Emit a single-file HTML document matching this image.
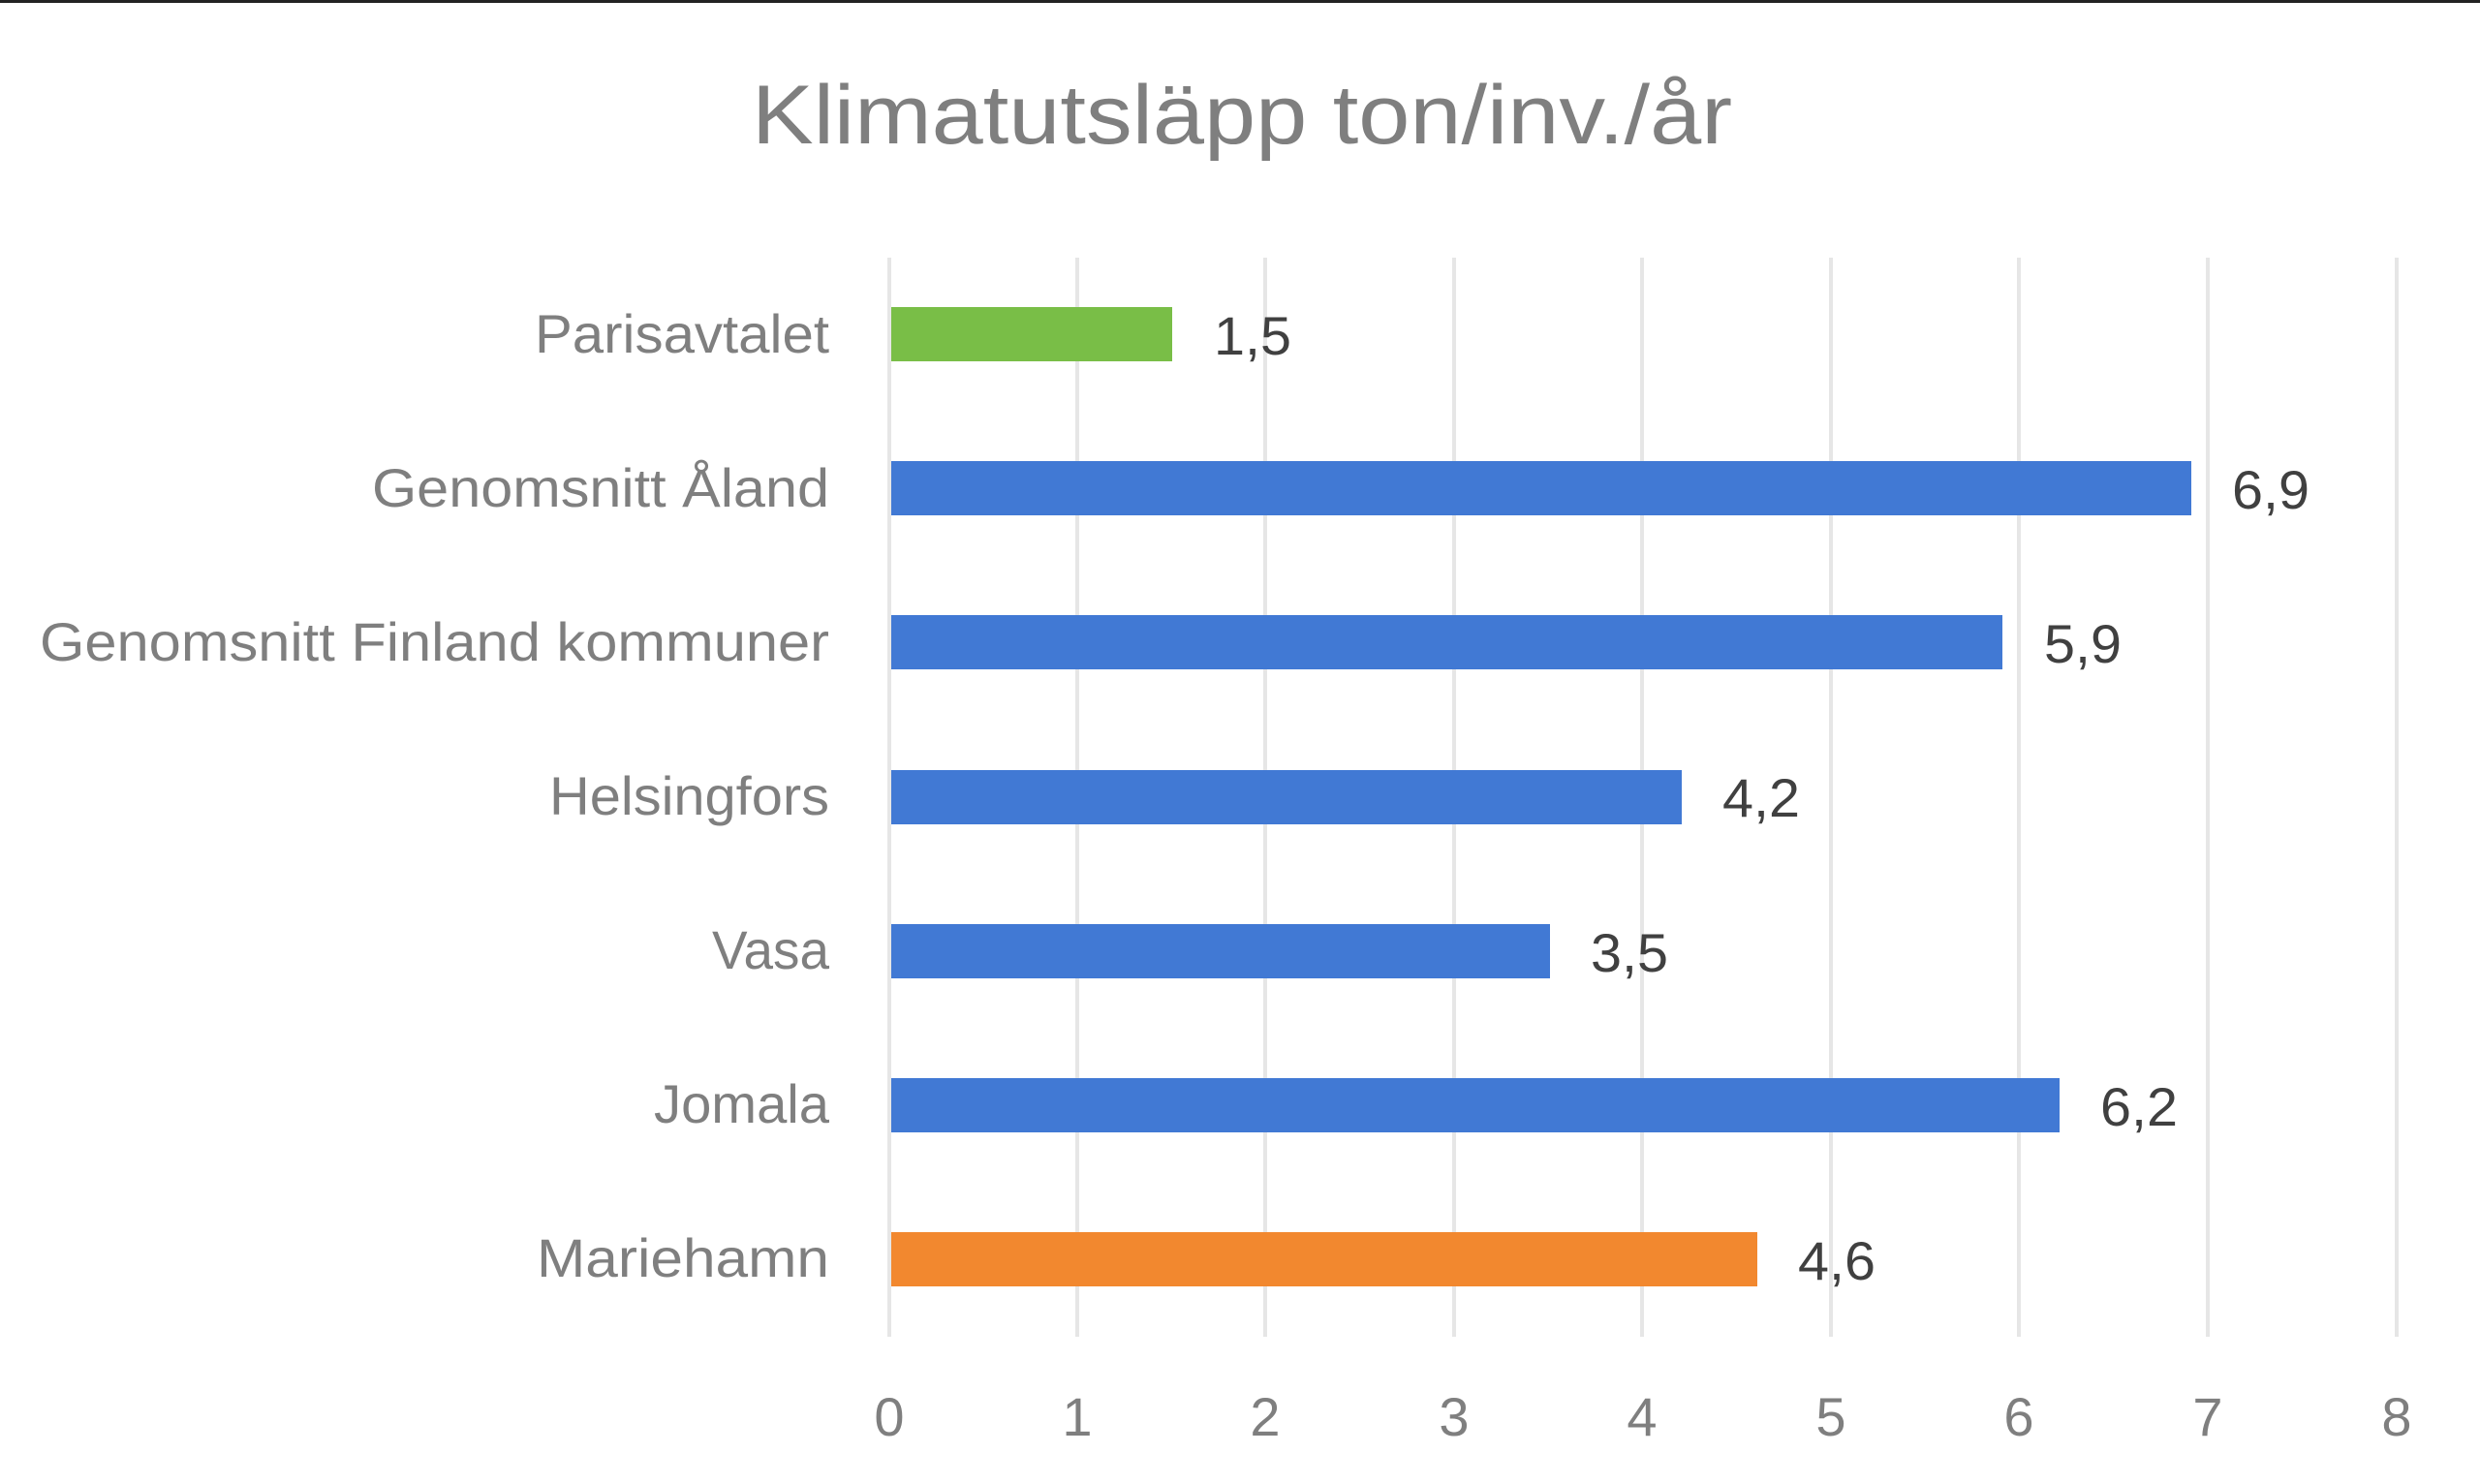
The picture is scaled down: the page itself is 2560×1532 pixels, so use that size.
<!DOCTYPE html>
<html><head><meta charset="utf-8"><style>
html,body{margin:0;padding:0;background:#fff;}
svg{display:block;}
text{font-family:"Liberation Sans",sans-serif;}
</style></head><body>
<svg width="2560" height="1532" viewBox="0 0 2560 1532" xmlns="http://www.w3.org/2000/svg">
<rect width="2560" height="1532" fill="#fff"/>
<rect x="0" y="0" width="2560" height="3" fill="#222"/>
<text x="1282" y="148" font-size="86" fill="#7f7f7f" text-anchor="middle" textLength="1012" lengthAdjust="spacingAndGlyphs">Klimatutsläpp ton/inv./år</text>
<g stroke="#e6e6e6" stroke-width="4">
<line x1="918" y1="266" x2="918" y2="1380"/>
<line x1="1112" y1="266" x2="1112" y2="1380"/>
<line x1="1306" y1="266" x2="1306" y2="1380"/>
<line x1="1501" y1="266" x2="1501" y2="1380"/>
<line x1="1695" y1="266" x2="1695" y2="1380"/>
<line x1="1890" y1="266" x2="1890" y2="1380"/>
<line x1="2084" y1="266" x2="2084" y2="1380"/>
<line x1="2279" y1="266" x2="2279" y2="1380"/>
<line x1="2474" y1="266" x2="2474" y2="1380"/>
</g>
<g>
<rect x="920" y="317" width="290" height="56" fill="#79be47"/>
<rect x="920" y="476" width="1342" height="56" fill="#4179d4"/>
<rect x="920" y="635" width="1147" height="56" fill="#4179d4"/>
<rect x="920" y="795" width="816" height="56" fill="#4179d4"/>
<rect x="920" y="954" width="680" height="56" fill="#4179d4"/>
<rect x="920" y="1113" width="1206" height="56" fill="#4179d4"/>
<rect x="920" y="1272" width="894" height="56" fill="#f2882f"/>
</g>
<g font-size="56" fill="#404040">
<text x="1253" y="366" textLength="80" lengthAdjust="spacingAndGlyphs">1,5</text>
<text x="2304" y="525" textLength="80" lengthAdjust="spacingAndGlyphs">6,9</text>
<text x="2110" y="684" textLength="80" lengthAdjust="spacingAndGlyphs">5,9</text>
<text x="1778" y="843" textLength="80" lengthAdjust="spacingAndGlyphs">4,2</text>
<text x="1642" y="1003" textLength="80" lengthAdjust="spacingAndGlyphs">3,5</text>
<text x="2168" y="1162" textLength="80" lengthAdjust="spacingAndGlyphs">6,2</text>
<text x="1856" y="1321" textLength="80" lengthAdjust="spacingAndGlyphs">4,6</text>
</g>
<g font-size="56" fill="#7f7f7f" text-anchor="end">
<text x="856" y="364" textLength="304" lengthAdjust="spacingAndGlyphs">Parisavtalet</text>
<text x="856" y="523" textLength="472" lengthAdjust="spacingAndGlyphs">Genomsnitt Åland</text>
<text x="856" y="682" textLength="815" lengthAdjust="spacingAndGlyphs">Genomsnitt Finland kommuner</text>
<text x="856" y="841" textLength="289" lengthAdjust="spacingAndGlyphs">Helsingfors</text>
<text x="856" y="1000" textLength="121" lengthAdjust="spacingAndGlyphs">Vasa</text>
<text x="856" y="1159" textLength="181" lengthAdjust="spacingAndGlyphs">Jomala</text>
<text x="856" y="1318" textLength="302" lengthAdjust="spacingAndGlyphs">Mariehamn</text>
</g>
<g font-size="56" fill="#7f7f7f" text-anchor="middle">
<text x="918" y="1482">0</text>
<text x="1112" y="1482">1</text>
<text x="1306" y="1482">2</text>
<text x="1501" y="1482">3</text>
<text x="1695" y="1482">4</text>
<text x="1890" y="1482">5</text>
<text x="2084" y="1482">6</text>
<text x="2279" y="1482">7</text>
<text x="2474" y="1482">8</text>
</g>
</svg>
</body></html>
